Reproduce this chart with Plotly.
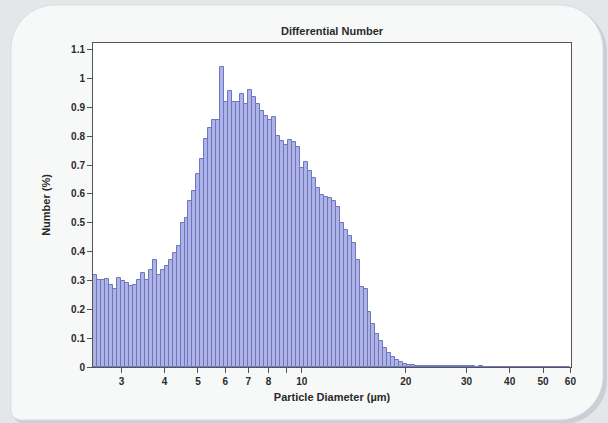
import numpy as np
import plotly.graph_objects as go

# ---------------- data ----------------
diam_min_um = 2.482   # lower edge of first displayed bin
diam_max_um = 60.0    # upper edge of last bin
number_pct = [
    0.32, 0.30, 0.30, 0.305, 0.285, 0.272, 0.307, 0.298, 0.29, 0.28,
    0.283, 0.30, 0.325, 0.30, 0.335, 0.37, 0.32, 0.335, 0.35, 0.37,
    0.395, 0.42,
    0.50, 0.515, 0.575, 0.61, 0.67, 0.72, 0.79, 0.83, 0.855, 0.855, 1.04,
    0.918, 0.958, 0.918, 0.918, 0.947, 0.91, 0.96, 0.935, 0.91, 0.889,
    0.87, 0.855, 0.865, 0.80, 0.785, 0.77, 0.788, 0.78, 0.762,
    0.69, 0.71, 0.68, 0.655, 0.62, 0.595, 0.59, 0.585, 0.575, 0.555,
    0.50, 0.475, 0.455, 0.43, 0.37, 0.278, 0.272,
    0.19, 0.15, 0.115, 0.09, 0.065, 0.047, 0.035, 0.025, 0.018, 0.012,
    0.008, 0.006,
    0.005, 0.005, 0.004, 0.004, 0.004, 0.003, 0.003, 0.003, 0.003, 0.002,
    0.002, 0.002, 0.002, 0.002, 0.002, 0.001, 0.002, 0.001, 0.001, 0.001,
    0.001, 0.001, 0.001, 0.001, 0.001, 0.001, 0.001, 0.001, 0.0005, 0.001,
    0.0005, 0.0005, 0.0005, 0.0005, 0.0005, 0.0005, 0.0005, 0.0005, 0.0005,
]
x_tick_values = [3, 4, 5, 6, 7, 8, 9, 10, 20, 30, 40, 50, 60]
x_tick_labels = ["3", "4", "5", "6", "7", "8", "", "10", "20", "30", "40", "50", "60"]
y_tick_values = [0, 0.1, 0.2, 0.3, 0.4, 0.5, 0.6, 0.7, 0.8, 0.9, 1.0, 1.1]
y_tick_labels = ["0", "0.1", "0.2", "0.3", "0.4", "0.5", "0.6", "0.7", "0.8", "0.9", "1", "1.1"]

# ---------------- geometry ----------------
WIDTH, HEIGHT = 608, 423
L, R, T, B = 93, 37, 43, 56
PW, PH = WIDTH - L - R, HEIGHT - T - B

n = len(number_pct)
log_edges = np.linspace(np.log10(diam_min_um), np.log10(diam_max_um), n + 1)
log_centers = (log_edges[:-1] + log_edges[1:]) / 2
bin_w = log_edges[1] - log_edges[0]

def P(x, y):
    return (x - L) / PW, 1 - (y - T) / PH

def rounded_path(x0, y0, x1, y1, r_tl, r_tr, r_br, r_bl):
    k = 0.5523
    def pt(x, y):
        a, b = P(x, y)
        return f"{a:.5f},{b:.5f}"
    s = f"M {pt(x0 + r_tl, y0)} L {pt(x1 - r_tr, y0)} "
    s += f"C {pt(x1 - r_tr + k*r_tr, y0)} {pt(x1, y0 + r_tr - k*r_tr)} {pt(x1, y0 + r_tr)} "
    s += f"L {pt(x1, y1 - r_br)} "
    s += f"C {pt(x1, y1 - r_br + k*r_br)} {pt(x1 - r_br + k*r_br, y1)} {pt(x1 - r_br, y1)} "
    s += f"L {pt(x0 + r_bl, y1)} "
    s += f"C {pt(x0 + r_bl - k*r_bl, y1)} {pt(x0, y1 - r_bl + k*r_bl)} {pt(x0, y1 - r_bl)} "
    s += f"L {pt(x0, y0 + r_tl)} "
    s += f"C {pt(x0, y0 + r_tl - k*r_tl)} {pt(x0 + r_tl - k*r_tl, y0)} {pt(x0 + r_tl, y0)} Z"
    return s

shapes = [
    dict(type="path", xref="paper", yref="paper", layer="below",
         path=rounded_path(14, 8, 607, 424, 44, 44, 44, 10),
         fillcolor="#c9cfd4", line=dict(width=0)),
    dict(type="path", xref="paper", yref="paper", layer="below",
         path=rounded_path(11, 5, 603, 420, 44, 44, 44, 10),
         fillcolor="#f7f8f8", line=dict(color="#dadee0", width=1)),
    dict(type="rect", xref="paper", yref="paper", layer="below",
         x0=0, y0=0, x1=1, y1=1, fillcolor="#ffffff", line=dict(width=0)),
]

font_family = "Liberation Sans, Arial, sans-serif"

fig = go.Figure(go.Bar(
    x=log_centers, y=number_pct, width=bin_w,
    marker=dict(color="#adb3e4", line=dict(color="#6e76c2", width=1)),
))

fig.update_layout(
    width=WIDTH, height=HEIGHT,
    margin=dict(l=L, r=R, t=T, b=B),
    paper_bgcolor="#e3e7ea",
    plot_bgcolor="#ffffff",
    showlegend=False,
    bargap=0,
    shapes=shapes,
    font=dict(family=font_family, color="#2a2a2a"),
    title=dict(text="<b>Differential Number</b>", x=(L + PW / 2) / WIDTH, xanchor="center",
               y=1 - 31 / HEIGHT, yanchor="middle", font=dict(size=11, color="#2a2a2a")),
    xaxis=dict(
        range=[np.log10(diam_min_um), np.log10(diam_max_um * 1.004)],
        tickmode="array", tickvals=np.log10(x_tick_values), ticktext=x_tick_labels,
        ticks="outside", ticklen=5, tickcolor="#555", tickwidth=1,
        showline=True, linecolor="#555", linewidth=1, mirror=True,
        showgrid=False, zeroline=False,
        tickfont=dict(size=10, weight="bold", color="#2a2a2a"),
        title=dict(text="<b>Particle Diameter (µm)</b>", font=dict(size=11), standoff=7),
    ),
    yaxis=dict(
        range=[0, 1.123],
        tickmode="array", tickvals=y_tick_values, ticktext=y_tick_labels,
        ticks="outside", ticklen=5, tickcolor="#555", tickwidth=1,
        showline=True, linecolor="#555", linewidth=1, mirror=True,
        showgrid=False, zeroline=False,
        tickfont=dict(size=10, weight="bold", color="#2a2a2a"),
        title=dict(text="<b>Number (%)</b>", font=dict(size=11), standoff=18),
    ),
)

fig.write_html("out.html")
